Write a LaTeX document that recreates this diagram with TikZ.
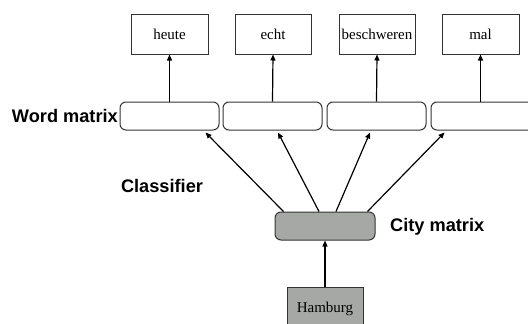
\documentclass[tikz,border=0pt]{standalone}
\usepackage{fontspec}
\setmainfont{Liberation Serif}
\newfontfamily\labfont{Liberation Sans}
\usetikzlibrary{arrows.meta}
\definecolor{boxgray}{HTML}{A6A8A6}
\definecolor{edge}{HTML}{333333}
\begin{document}
\begin{tikzpicture}[x=1pt,y=-1pt,
  wordbox/.style={draw=edge,line width=1pt,minimum width=76pt,minimum height=40pt,inner sep=0pt,font=\fontsize{15}{17}\selectfont},
  matbox/.style={draw=edge,line width=1pt,rounded corners=6pt,minimum width=99pt,minimum height=28pt,inner sep=0pt},
  lab/.style={font=\labfont\bfseries\fontsize{18.2}{21}\selectfont,inner sep=0pt},
  arr/.style={line width=1.2pt,-{Triangle[length=6pt,width=5pt]}}]
\useasboundingbox (0,0) rectangle (528,324);
\clip (0,0) rectangle (528,324);
\node[wordbox,minimum width=77pt] (t1) at (169.5,34) {heute};
\node[wordbox] (t2) at (273,34) {echt};
\node[wordbox] (t3) at (377,34) {beschweren};
\node[wordbox,minimum width=77pt] (t4) at (480.5,34) {mal};
\node[matbox] (w1) at (169.5,116) {};
\node[matbox] (w2) at (272.5,116) {};
\node[matbox] (w3) at (376.5,116) {};
\node[matbox,minimum width=104pt] (w4) at (483,116) {};
\node[matbox,fill=boxgray,minimum width=100pt] (city) at (325,226) {};
\node[wordbox,fill=boxgray,minimum height=40pt,text depth=0pt] (ham) at (325,307) {Hamburg};
\node[lab,anchor=east] (lw) at (118,116) {Word matrix};
\node[lab] (lc) at (162,186) {Classifier};
\node[lab,anchor=west] (lcm) at (390,227) {City matrix};
\foreach \i in {1,2,3} \draw[arr] (w\i.north) -- (t\i.south);
\draw[arr] ([xshift=-2.5pt]w4.north) -- (t4.south);
\draw[arr] ([xshift=9pt]city.north west) -- ([xshift=-14pt,yshift=-2pt]w1.south east);
\draw[arr] ([xshift=-6pt]city.north) -- ([xshift=5.5pt,yshift=-2pt]w2.south);
\draw[arr] ([xshift=11pt]city.north) -- ([xshift=-6.5pt,yshift=-2pt]w3.south);
\draw[arr] ([xshift=-8pt]city.north east) -- ([xshift=14pt,yshift=-2pt]w4.south west);
\draw[arr] (ham.north) -- (city.south);
\end{tikzpicture}
\end{document}
